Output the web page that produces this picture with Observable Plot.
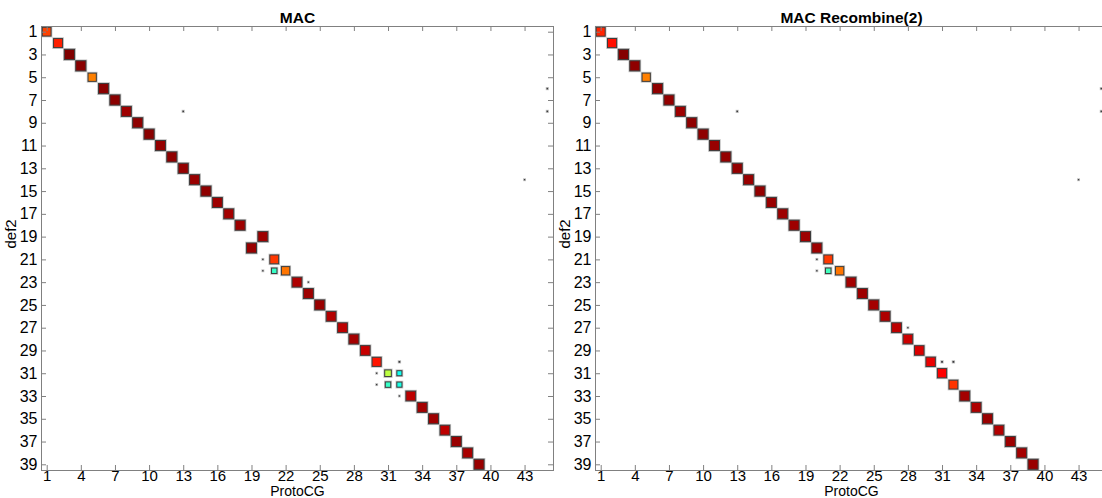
<!DOCTYPE html>
<html>
<head>
<meta charset="utf-8">
<script src="https://cdn.jsdelivr.net/npm/d3@7"></script>
<script src="https://cdn.jsdelivr.net/npm/@observablehq/plot@0.6"></script>
<style>
  html, body { margin: 0; padding: 0; background: #fff; overflow: hidden; }
  #wrap { position: relative; width: 1102px; height: 498px; overflow: hidden; }
  #left, #right { position: absolute; top: 0; width: 560px; height: 498px; }
  #left { left: 0; }
  #right { left: 554px; }
  svg { overflow: visible; max-width: none !important; }
</style>
</head>
<body>
<div id="wrap"><div id="left"></div><div id="right"></div></div>
<script>
// ---- tick labels ----
const protoCGTicks = [1, 4, 7, 10, 13, 16, 19, 22, 25, 28, 31, 34, 37, 40, 43];
const def2Ticks = [1, 3, 5, 7, 9, 11, 13, 15, 17, 19, 21, 23, 25, 27, 29, 31, 33, 35, 37, 39];

// ---- panel 1: MAC ----
const macRows = [1,2,3,4,5,6,7,8,9,10,11,12,13,14,15,16,17,18,19,20,21,22,22,23,24,25,26,27,28,29,30,31,31,32,32,33,34,35,36,37,38,39];
const macCols = [1,2,3,4,5,6,7,8,9,10,11,12,13,14,15,16,17,18,20,19,21,22,21,23,24,25,26,27,28,29,30,31,32,31,32,33,34,35,36,37,38,39];
const macVals = [0.81,0.845,1.0,0.99,0.75,0.99,0.99,0.97,0.985,0.99,0.98,0.985,0.98,0.975,0.985,0.97,0.965,0.97,0.97,0.975,0.82,0.76,0.43,0.955,0.97,0.975,0.95,0.94,0.965,0.93,0.855,0.56,0.39,0.43,0.40,0.94,0.965,0.97,0.94,0.975,0.96,0.975];
// faint off-diagonal entries
const macMinorRows = [30,31,32,21,22,6,8,8,33,23,14];
const macMinorCols = [32,30,30,20,20,45,45,13,32,24,43];
const macMinorVals = [0.03,0.01,0.01,0.01,0.01,0.02,0.02,0.02,0.01,0.01,0.01];

// ---- panel 2: MAC Recombine(2) ----
const recRows = [1,2,3,4,5,6,7,8,9,10,11,12,13,14,15,16,17,18,19,20,21,22,22,23,24,25,26,27,28,29,30,31,32,33,34,35,36,37,38,39];
const recCols = [1,2,3,4,5,6,7,8,9,10,11,12,13,14,15,16,17,18,19,20,21,22,21,23,24,25,26,27,28,29,30,31,32,33,34,35,36,37,38,39];
const recVals = [0.84,0.86,0.995,0.985,0.75,0.985,0.98,0.97,0.985,0.985,0.975,0.98,0.98,0.975,0.98,0.975,0.97,0.97,0.97,0.97,0.82,0.76,0.44,0.965,0.97,0.965,0.955,0.94,0.925,0.91,0.895,0.875,0.825,0.965,0.955,0.975,0.95,0.97,0.965,0.975];
const recMinorRows = [30,30,21,22,6,8,8,27,14];
const recMinorCols = [31,32,20,20,45,45,13,28,43];
const recMinorVals = [0.03,0.03,0.01,0.01,0.02,0.02,0.02,0.01,0.01];

// jet colormap
const jetDomain = [0, 0.125, 0.375, 0.625, 0.875, 1];
const jetRange = ["#00008f", "#0000ff", "#00ffff", "#ffff00", "#ff0000", "#800000"];

const half = v => 0.45 * Math.pow(v, 0.75);

function build(rows, cols, vals) {
  return rows.map((r, i) => ({r, c: cols[i], v: vals[i]}));
}

function panel(title, main, minor) {
  const W = 560, H = 498, ML = 41, MR = 7, MT = 26, MB = 28;
  const pw = W - ML - MR, ph = H - MT - MB;
  const all = minor.concat(main);
  const grey = "#808080";
  const svg = Plot.plot({
    width: W, height: H,
    marginLeft: ML, marginRight: MR, marginTop: MT, marginBottom: MB,
    style: {fontFamily: "'Liberation Sans', Arial, sans-serif", color: "#000", background: "transparent", maxWidth: "none"},
    x: {domain: [0.5, 45.5], label: null},
    y: {domain: [0.5, 39.5], reverse: true, label: null},
    color: {type: "linear", domain: jetDomain, range: jetRange, interpolate: "rgb"},
    marks: [
      Plot.rect(all, {x1: d => d.c - half(d.v), x2: d => d.c + half(d.v), y1: d => d.r - half(d.v), y2: d => d.r + half(d.v), fill: "none", stroke: "#c4c4c4", strokeWidth: 2.6}),
      Plot.rect(all, {x1: d => d.c - half(d.v), x2: d => d.c + half(d.v), y1: d => d.r - half(d.v), y2: d => d.r + half(d.v), fill: "v", stroke: "#3c3c3c", strokeWidth: 1}),
      Plot.frame({stroke: grey}),
      Plot.tickX(protoCGTicks, {x: d => d, insetTop: ph - 5, stroke: grey}),
      Plot.tickX(protoCGTicks, {x: d => d, insetBottom: ph - 5, stroke: grey}),
      Plot.tickY(def2Ticks, {y: d => d, insetRight: pw - 5, stroke: grey}),
      Plot.tickY(def2Ticks, {y: d => d, insetLeft: pw - 5, stroke: grey}),
      Plot.axisX(protoCGTicks, {anchor: "bottom", tickSize: 0, tickPadding: 0, fontSize: 15, label: null}),
      Plot.axisY(def2Ticks, {anchor: "left", tickSize: 0, tickPadding: 4, fontSize: 16, label: null}),
      Plot.text([title], {text: d => d, frameAnchor: "top", dy: -15, fontWeight: "bold", fontSize: 15.5}),
      Plot.text(["ProtoCG"], {text: d => d, frameAnchor: "bottom", dy: 25.5, lineAnchor: "bottom", fontSize: 14}),
      Plot.text(["def2"], {text: d => d, frameAnchor: "left", dx: -30, rotate: -90, fontSize: 15})
    ]
  });
  svg.style.maxWidth = "none";
  return svg;
}

document.getElementById("left").appendChild(
  panel("MAC", build(macRows, macCols, macVals), build(macMinorRows, macMinorCols, macMinorVals)));
document.getElementById("right").appendChild(
  panel("MAC Recombine(2)", build(recRows, recCols, recVals), build(recMinorRows, recMinorCols, recMinorVals)));
</script>
</body>
</html>
